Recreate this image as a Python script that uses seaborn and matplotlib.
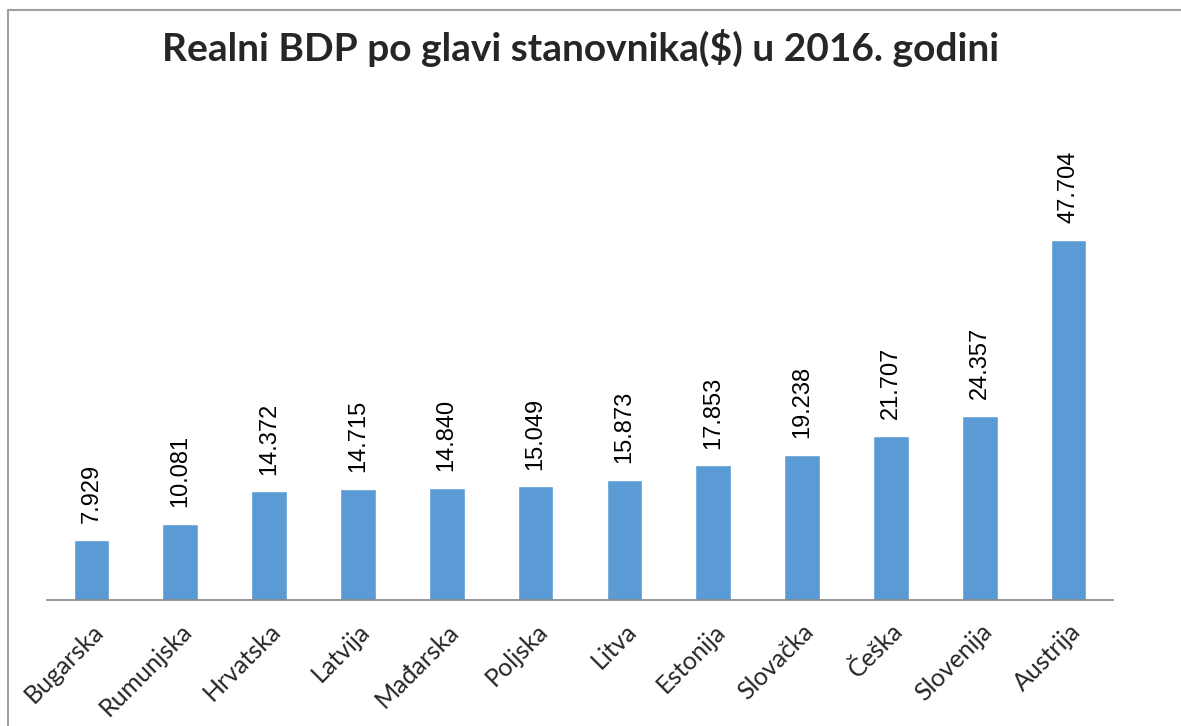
import pandas as pd
import seaborn as sns
import matplotlib.pyplot as plt
from matplotlib.lines import Line2D

# data
countries = ['Bugarska', 'Rumunjska', 'Hrvatska', 'Latvija', 'Mađarska', 'Poljska',
             'Litva', 'Estonija', 'Slovačka', 'Češka', 'Slovenija', 'Austrija']
gdp = [7929, 10081, 14372, 14715, 14840, 15049, 15873, 17853, 19238, 21707, 24357, 47704]

df = pd.DataFrame({'Zemlja': countries, 'BDP': gdp})

sns.set_style('white')
fig = plt.figure(figsize=(11.81, 7.26), dpi=100)
ax = fig.add_axes([47 / 1181, 1 - 600 / 726, (1113 - 47) / 1181, (600 - 147) / 726])

sns.barplot(data=df, x='Zemlja', y='BDP', color='#5B9BD5', width=0.4, saturation=1, ax=ax)

ax.set_xlim(-0.5, len(countries) - 0.5)
ax.set_ylim(0, 60000)

# value labels, rotated, thousands with a dot
for i, v in enumerate(gdp):
    ax.annotate(f'{v:,}'.replace(',', '.'), (i, v), xytext=(0, 12), textcoords='offset points',
                rotation=90, ha='center', va='bottom', fontsize=17,
                family='Liberation Sans', color='black')

# axes look
for s in ['top', 'right', 'left']:
    ax.spines[s].set_visible(False)
ax.spines['bottom'].set_color('#868686')
ax.spines['bottom'].set_linewidth(1.2)
ax.set_yticks([])
ax.set_xlabel('')
ax.set_ylabel('')
ax.set_xticks(range(len(countries)))
ax.set_xticklabels(countries, rotation=45, ha='right', rotation_mode='anchor',
                   fontsize=18, family='Lato')
ax.tick_params(axis='x', which='major', length=0, pad=14)
ax.set_xticks([i - 0.5 for i in range(len(countries) + 1)], minor=True)
ax.tick_params(axis='x', which='minor', length=8, color='#868686', width=1.2, direction='out')

fig.text(0.492, 1 - 48 / 726, 'Realni BDP po glavi stanovnika($) u 2016. godini',
         ha='center', va='center', fontsize=28, fontweight='bold', family='Lato')

# chart frame (left and top edges)
fig.add_artist(Line2D([7.5 / 1181, 7.5 / 1181], [0, 1 - 10 / 726], color='#A0A0A0', lw=1.5))
fig.add_artist(Line2D([7.5 / 1181, 1], [1 - 10 / 726, 1 - 10 / 726], color='#A0A0A0', lw=1.5))

fig.savefig('out.png', dpi=100)
